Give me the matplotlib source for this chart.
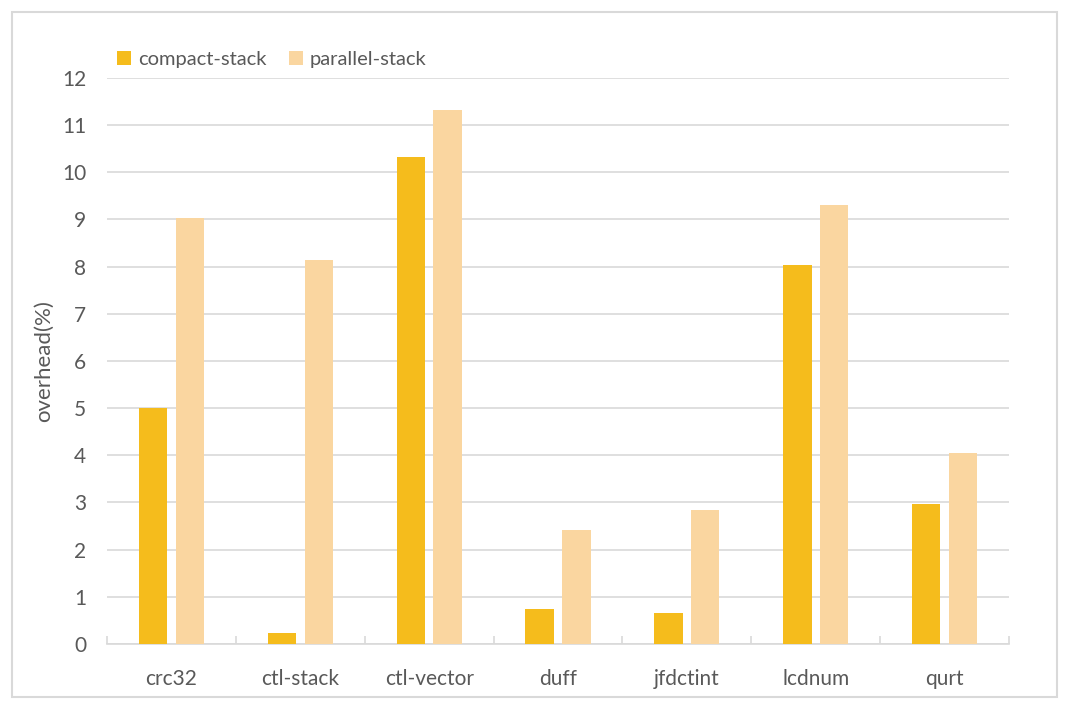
import matplotlib
matplotlib.use("Agg")
import matplotlib.pyplot as plt
import numpy as np
from matplotlib.patches import Rectangle

BENCHMARKS = ["crc32", "ctl-stack", "ctl-vector", "duff", "jfdctint", "lcdnum", "qurt"]
COMPACT = [5.0, 0.23, 10.32, 0.74, 0.66, 8.03, 2.97]
PARALLEL = [9.03, 8.14, 11.32, 2.42, 2.84, 9.31, 4.05]
YTICKS = list(range(0, 13))

plt.rcParams.update({
    "font.family": ["Lato", "DejaVu Sans"],
    "font.size": 15,
    "text.color": "#595959",
    "axes.labelcolor": "#595959",
    "xtick.color": "#595959",
    "ytick.color": "#595959",
})

fig = plt.figure(figsize=(10.68, 7.09), dpi=100)
ax = fig.add_axes([0.1002, 0.0917, 0.8446, 0.7983])

# outer light frame like the Excel chart area
fig.patches.append(Rectangle((12 / 1068, 12 / 709), 1045 / 1068, 685 / 709,
                             transform=fig.transFigure, fill=False,
                             edgecolor="#d9d9d9", lw=1.5))

x = np.arange(len(BENCHMARKS))
w = 0.22
ax.bar(x - 0.143, COMPACT, w, color="#F5BC1C", label="compact-stack", zorder=3)
ax.bar(x + 0.143, PARALLEL, w, color="#FAD6A0", label="parallel-stack", zorder=3)

ax.set_xlim(-0.5, len(BENCHMARKS) - 0.5)
ax.set_ylim(0, 12)
ax.set_yticks(YTICKS)
ax.yaxis.grid(True, color="#d9d9d9", lw=1.2, zorder=0)
ax.tick_params(axis="y", length=0, pad=15, labelsize=15)

ax.set_xticks(x)
ax.set_xticklabels(BENCHMARKS)
ax.tick_params(axis="x", length=0, pad=18, labelsize=15)
ax.set_xticks(np.arange(-0.5, len(BENCHMARKS)), minor=True)
ax.tick_params(axis="x", which="minor", direction="in", length=6,
               color="#d9d9d9", width=1.2)

for s in ["top", "right", "left"]:
    ax.spines[s].set_visible(False)
ax.spines["bottom"].set_color("#d9d9d9")
ax.spines["bottom"].set_linewidth(1.2)

ax.set_ylabel("overhead(%)", fontsize=16, labelpad=6)

ax.legend(loc="lower left", bbox_to_anchor=(0.0, 1.0), ncol=2, frameon=False,
          handlelength=0.7, handleheight=0.7, handletextpad=0.35,
          columnspacing=1.1, fontsize=14.5, borderaxespad=0.1)

fig.savefig("out.png", dpi=100)
